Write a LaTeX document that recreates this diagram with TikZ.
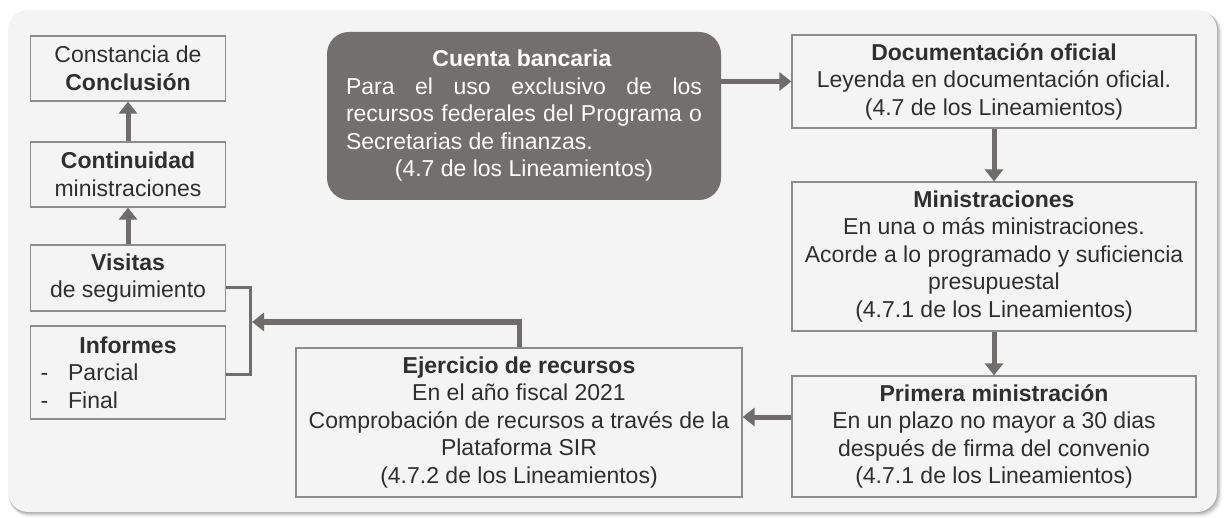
\documentclass[tikz,border=0pt]{standalone}
\usepackage{fontspec}
\setmainfont{Liberation Sans}
\usetikzlibrary{arrows.meta}
\definecolor{panel}{HTML}{F4F4F4}
\definecolor{boxline}{HTML}{8C8C8C}
\definecolor{txt}{HTML}{2F2F2F}
\definecolor{arrowc}{HTML}{706C6B}
\definecolor{darkfill}{HTML}{736F6E}
\newcommand{\cuentatext}{\textbf{Cuenta bancaria}\\
\makebox[356pt][s]{Para el uso exclusivo de los}\\
\makebox[356pt][s]{recursos federales del Programa o}\\
\makebox[356pt][l]{Secretarias de finanzas.}\\
(4.7 de los Lineamientos)}
\begin{document}
\begin{tikzpicture}[x=1pt,y=-1pt,
  every node/.style={font=\fontsize{23}{27.5}\selectfont, text=txt},
  box/.style={draw=boxline, line width=1.2pt, fill=panel, inner sep=0pt, align=center},
  arr/.style={draw=arrowc, line width=5pt, -{Triangle[width=18pt,length=12pt]}},
  brk/.style={draw=arrowc, line width=3pt}
]
\useasboundingbox (0,0) rectangle (1225,518);
\fill[white] (0,0) rectangle (1225,518);
% panel with soft shadow
\foreach \d/\o in {5/0.04,4/0.05,3/0.07,2/0.09,1/0.11}
  \fill[black,opacity=\o,rounded corners=20pt] (8+0.3*\d,10+0.6*\d) rectangle (1217+\d,512+\d);
\fill[panel,rounded corners=20pt] (8,10) rectangle (1217,512);

% left column
\node[box, minimum width=195pt, minimum height=65pt] (const) at (128,68.5) {Constancia de\\\textbf{Conclusión}};
\node[box, minimum width=195pt, minimum height=65pt] (cont) at (128,174.5) {\textbf{Continuidad}\\ministraciones};
\node[box, minimum width=195pt, minimum height=66pt] (vis) at (128,278) {\textbf{Visitas}\\de seguimiento};
\node[box, minimum width=195pt, minimum height=93pt, align=left, text width=175pt, inner xsep=10pt] (inf) at (128,372.5)
  {\makebox[175pt][c]{\textbf{Informes}}\\-\hspace{20pt}Parcial\\-\hspace{20pt}Final};

% cuenta bancaria
\node[fill=darkfill, rounded corners=22pt, minimum width=394pt, minimum height=168pt, inner sep=0pt,
      align=center, text=white] (cuenta) at (524,116) {\hspace*{-4pt}\cuentatext};

% right column
\node[box, minimum width=404pt, minimum height=93pt] (doc) at (994,81.5)
  {\textbf{Documentación oficial}\\Leyenda en documentación oficial.\\(4.7 de los Lineamientos)};
\node[box, minimum width=404pt, minimum height=149pt] (mini) at (994,256.5)
  {\textbf{Ministraciones}\\En una o más ministraciones.\\Acorde a lo programado y suficiencia\\presupuestal\\(4.7.1 de los Lineamientos)};
\node[box, minimum width=404pt, minimum height=121pt] (prim) at (994,436.5)
  {\textbf{Primera ministración}\\En un plazo no mayor a 30 dias\\después de firma del convenio\\(4.7.1 de los Lineamientos)};
\node[box, minimum width=446pt, minimum height=149pt] (ejer) at (519,422.5)
  {\textbf{Ejercicio de recursos}\\En el año fiscal 2021\\Comprobación de recursos a través de la\\Plataforma SIR\\(4.7.2 de los Lineamientos)};

% connectors
\draw[arr] (cuenta.east |- doc.west) -- (doc.west);
\draw[arr] (doc.south) -- (mini.north);
\draw[arr] (mini.south) -- (prim.north);
\draw[arr] (prim.west |- 0,417) -- (ejer.east |- 0,417);
\coordinate (join) at (252,322);
\draw[arr] (ejer.north) |- (join);
\draw[brk] ([yshift=-10pt]vis.east) -| (250,374) -- (inf.east |- 0,374);
\draw[arr] (vis.north) -- (cont.south);
\draw[arr] (cont.north) -- (const.south);
\end{tikzpicture}
\end{document}
